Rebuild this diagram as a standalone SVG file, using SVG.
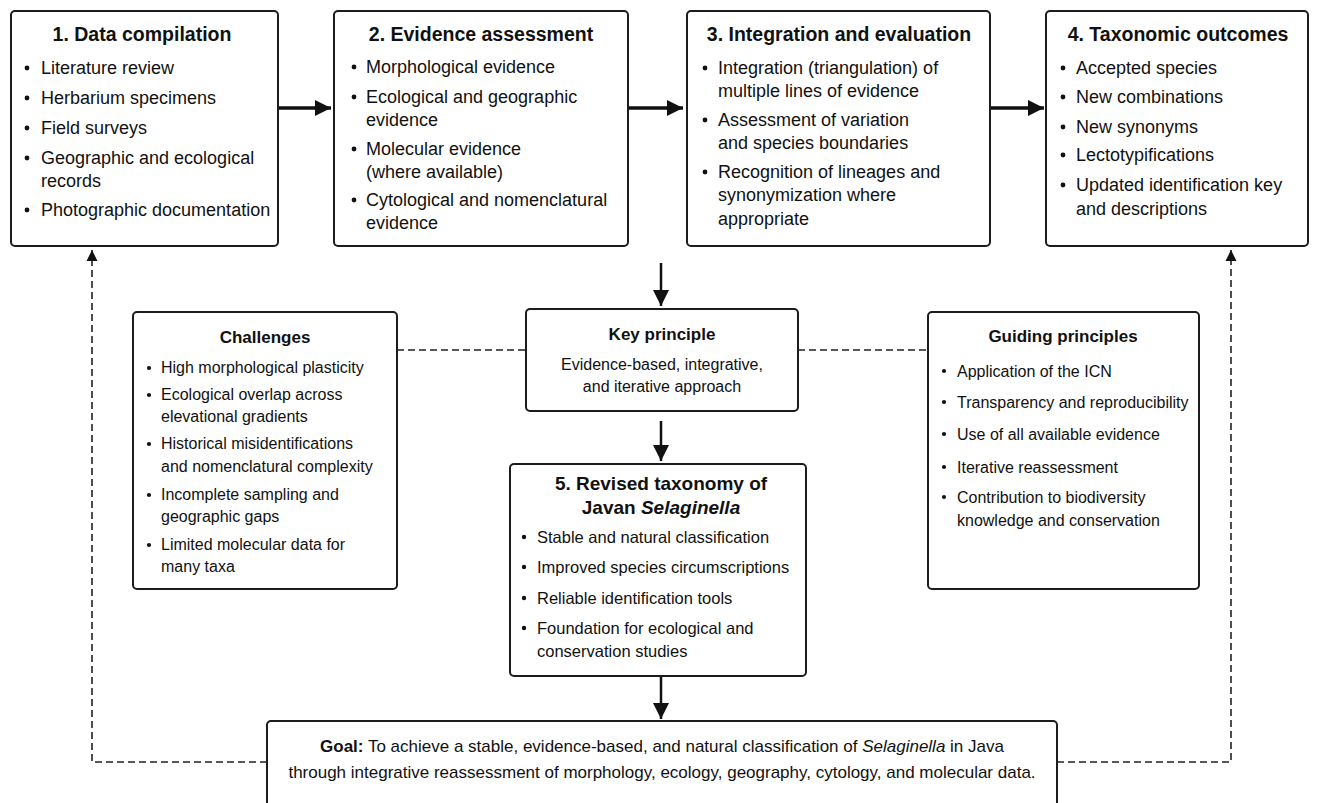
<svg xmlns="http://www.w3.org/2000/svg" width="1319" height="803" viewBox="0 0 1319 803">
<style>
text{font-family:"Liberation Sans",Arial,Helvetica,sans-serif;fill:#111;}
.box{fill:#fff;stroke:#1c1c1c;stroke-width:2;}
.t1{font-size:19.5px;font-weight:bold;text-anchor:middle;}
.t2{font-size:17px;font-weight:bold;text-anchor:middle;}
.t5{font-size:19px;font-weight:bold;text-anchor:middle;}
.b18{font-size:18px;}
.b16{font-size:16px;}
.b17{font-size:17px;}
.b165{font-size:16.5px;}
.c{text-anchor:middle;}
.dot{fill:#111;}
.thick{stroke:#111;stroke-width:3.5;fill:none;}
.solid{stroke:#111;stroke-width:2.5;fill:none;}
.dash{stroke:#222;stroke-width:1.6;fill:none;stroke-dasharray:7 4;}
</style>
<defs>
<marker id="ah" viewBox="0 0 10 10" refX="10" refY="5" markerWidth="4.6" markerHeight="5.6" markerUnits="strokeWidth" orient="auto"><path d="M0,0 L10,5 L0,10 z" fill="#111"/></marker>
<marker id="ah2" viewBox="0 0 10 10" refX="10" refY="5" markerWidth="6.4" markerHeight="7" markerUnits="strokeWidth" orient="auto"><path d="M0,0 L10,5 L0,10 z" fill="#111"/></marker>
<marker id="ahd" viewBox="0 0 10 10" refX="10" refY="5" markerWidth="7" markerHeight="7" markerUnits="strokeWidth" orient="auto"><path d="M0,0 L10,5 L0,10 z" fill="#111"/></marker>
</defs>
<rect width="1319" height="803" fill="#fff"/>

<g id="connectors">
<line class="thick" x1="279" y1="108" x2="331" y2="108" marker-end="url(#ah)"/>
<line class="thick" x1="629" y1="108" x2="683" y2="108" marker-end="url(#ah)"/>
<line class="thick" x1="991" y1="108" x2="1044" y2="108" marker-end="url(#ah)"/>
<line class="solid" x1="661" y1="263" x2="661" y2="306" marker-end="url(#ah2)"/>
<line class="solid" x1="661" y1="421" x2="661" y2="461" marker-end="url(#ah2)"/>
<line class="solid" x1="661" y1="677" x2="661" y2="719" marker-end="url(#ah2)"/>
<line class="dash" x1="397" y1="350" x2="526" y2="350"/>
<line class="dash" x1="798" y1="350" x2="928" y2="350"/>
<path class="dash" d="M267,762 H92 V250" marker-end="url(#ahd)"/>
<path class="dash" d="M1057,762 H1231 V250" marker-end="url(#ahd)"/>
</g>

<g id="node1">
<rect class="box" x="11" y="11" width="267" height="235" rx="4"/>
<text class="t1" x="142" y="41">1. Data compilation</text>
<g class="b18">
<circle class="dot" cx="27" cy="68" r="2.4"/><text x="41" y="74">Literature review</text>
<circle class="dot" cx="27" cy="98" r="2.4"/><text x="41" y="104">Herbarium specimens</text>
<circle class="dot" cx="27" cy="128" r="2.4"/><text x="41" y="134">Field surveys</text>
<circle class="dot" cx="27" cy="158" r="2.4"/><text x="41" y="164">Geographic and ecological</text>
<text x="41" y="187">records</text>
<circle class="dot" cx="27" cy="210" r="2.4"/><text x="41" y="216">Photographic documentation</text>
</g>
</g>

<g id="node2">
<rect class="box" x="334" y="11" width="294" height="235" rx="4"/>
<text class="t1" x="481" y="41">2. Evidence assessment</text>
<g class="b18">
<circle class="dot" cx="354" cy="67" r="2.4"/><text x="366" y="73">Morphological evidence</text>
<circle class="dot" cx="354" cy="97" r="2.4"/><text x="366" y="103">Ecological and geographic</text>
<text x="366" y="126">evidence</text>
<circle class="dot" cx="354" cy="149" r="2.4"/><text x="366" y="155">Molecular evidence</text>
<text x="366" y="178">(where available)</text>
<circle class="dot" cx="354" cy="200" r="2.4"/><text x="366" y="206">Cytological and nomenclatural</text>
<text x="366" y="229">evidence</text>
</g>
</g>

<g id="node3">
<rect class="box" x="687" y="11" width="303" height="235" rx="4"/>
<text class="t1" x="839" y="41">3. Integration and evaluation</text>
<g class="b18">
<circle class="dot" cx="705" cy="68" r="2.4"/><text x="718" y="74">Integration (triangulation) of</text>
<text x="718" y="97">multiple lines of evidence</text>
<circle class="dot" cx="705" cy="120" r="2.4"/><text x="718" y="126">Assessment of variation</text>
<text x="718" y="149">and species boundaries</text>
<circle class="dot" cx="705" cy="172" r="2.4"/><text x="718" y="178">Recognition of lineages and</text>
<text x="718" y="201">synonymization where</text>
<text x="718" y="225">appropriate</text>
</g>
</g>

<g id="node4">
<rect class="box" x="1046" y="11" width="262" height="235" rx="4"/>
<text class="t1" x="1178" y="41">4. Taxonomic outcomes</text>
<g class="b18">
<circle class="dot" cx="1063" cy="68" r="2.4"/><text x="1076" y="74">Accepted species</text>
<circle class="dot" cx="1063" cy="97" r="2.4"/><text x="1076" y="103">New combinations</text>
<circle class="dot" cx="1063" cy="127" r="2.4"/><text x="1076" y="133">New synonyms</text>
<circle class="dot" cx="1063" cy="155" r="2.4"/><text x="1076" y="161">Lectotypifications</text>
<circle class="dot" cx="1063" cy="185" r="2.4"/><text x="1076" y="191">Updated identification key</text>
<text x="1076" y="215">and descriptions</text>
</g>
</g>

<g id="challenges">
<rect class="box" x="133" y="312" width="264" height="277" rx="4"/>
<text class="t2" x="265" y="343">Challenges</text>
<g class="b16">
<circle class="dot" cx="149" cy="368" r="2.1"/><text x="161" y="373">High morphological plasticity</text>
<circle class="dot" cx="149" cy="395" r="2.1"/><text x="161" y="400">Ecological overlap across</text>
<text x="161" y="422">elevational gradients</text>
<circle class="dot" cx="149" cy="444" r="2.1"/><text x="161" y="449">Historical misidentifications</text>
<text x="161" y="472">and nomenclatural complexity</text>
<circle class="dot" cx="149" cy="495" r="2.1"/><text x="161" y="500">Incomplete sampling and</text>
<text x="161" y="522">geographic gaps</text>
<circle class="dot" cx="149" cy="545" r="2.1"/><text x="161" y="550">Limited molecular data for</text>
<text x="161" y="572">many taxa</text>
</g>
</g>

<g id="key-principle">
<rect class="box" x="526" y="309" width="272" height="102" rx="4"/>
<text class="t2" x="662" y="340">Key principle</text>
<text class="b16 c" x="662" y="370">Evidence-based, integrative,</text>
<text class="b16 c" x="662" y="392">and iterative approach</text>
</g>

<g id="guiding-principles">
<rect class="box" x="928" y="312" width="271" height="277" rx="4"/>
<text class="t2" x="1063" y="342">Guiding principles</text>
<g class="b16">
<circle class="dot" cx="944" cy="371" r="2.1"/><text x="957" y="377">Application of the ICN</text>
<circle class="dot" cx="944" cy="402" r="2.1"/><text x="957" y="408">Transparency and reproducibility</text>
<circle class="dot" cx="944" cy="434" r="2.1"/><text x="957" y="440">Use of all available evidence</text>
<circle class="dot" cx="944" cy="467" r="2.1"/><text x="957" y="473">Iterative reassessment</text>
<circle class="dot" cx="944" cy="497" r="2.1"/><text x="957" y="503">Contribution to biodiversity</text>
<text x="957" y="526">knowledge and conservation</text>
</g>
</g>

<g id="node5">
<rect class="box" x="510" y="464" width="296" height="212" rx="4"/>
<text class="t5" x="661" y="490">5. Revised taxonomy of</text>
<text class="t5" x="661" y="514">Javan <tspan font-style="italic">Selaginella</tspan></text>
<g class="b165">
<circle class="dot" cx="524" cy="537" r="2.2"/><text x="537" y="543">Stable and natural classification</text>
<circle class="dot" cx="524" cy="567" r="2.2"/><text x="537" y="573">Improved species circumscriptions</text>
<circle class="dot" cx="524" cy="598" r="2.2"/><text x="537" y="604">Reliable identification tools</text>
<circle class="dot" cx="524" cy="628" r="2.2"/><text x="537" y="634">Foundation for ecological and</text>
<text x="537" y="657">conservation studies</text>
</g>
</g>

<g id="goal">
<rect class="box" x="267" y="721" width="790" height="110" rx="4"/>
<text class="b17 c" x="662" y="752"><tspan font-weight="bold">Goal:</tspan> To achieve a stable, evidence-based, and natural classification of <tspan font-style="italic">Selaginella</tspan> in Java</text>
<text class="b17 c" x="662" y="778">through integrative reassessment of morphology, ecology, geography, cytology, and molecular data.</text>
</g>
</svg>
